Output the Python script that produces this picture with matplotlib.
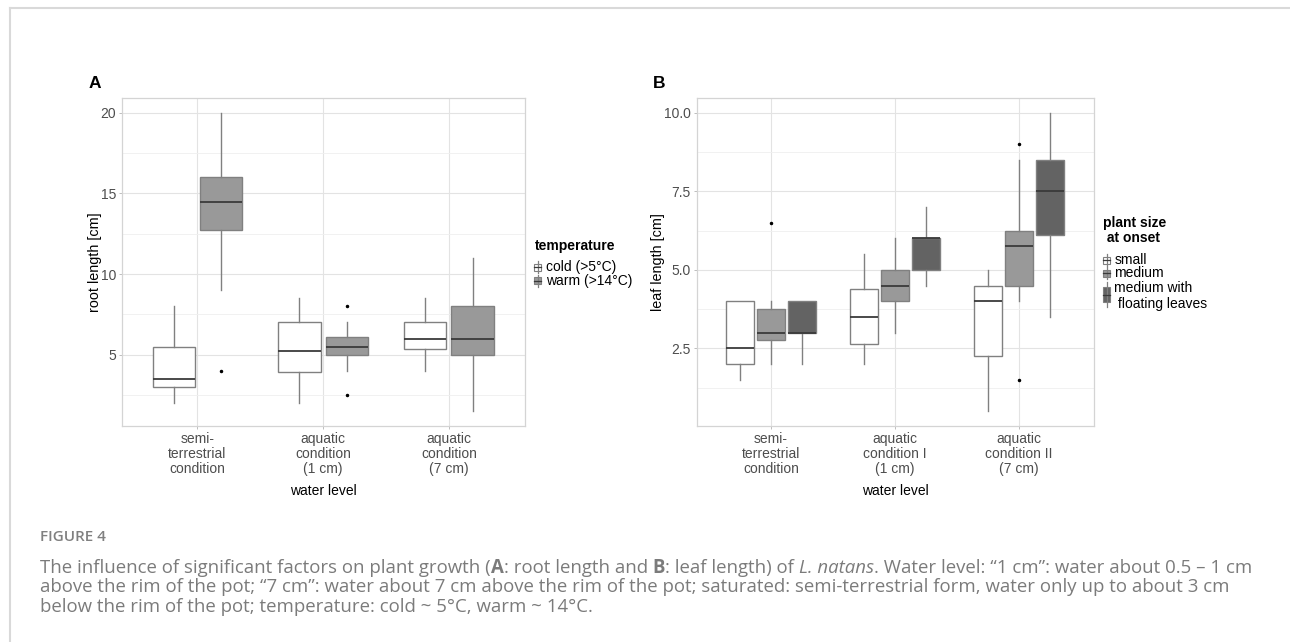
import matplotlib
matplotlib.use('Agg')
import matplotlib.pyplot as plt
from matplotlib.patches import Rectangle
from matplotlib.lines import Line2D
from matplotlib.ticker import MultipleLocator, FormatStrFormatter

plt.rcParams['font.family'] = ['Liberation Sans', 'DejaVu Sans']

# ---------------- data ----------------
water_levels_A = ["semi-\nterrestrial\ncondition", "aquatic\ncondition\n(1 cm)", "aquatic\ncondition\n(7 cm)"]
water_levels_B = ["semi-\nterrestrial\ncondition", "aquatic\ncondition I\n(1 cm)", "aquatic\ncondition II\n(7 cm)"]

# Panel A: root length [cm], temperature groups
cold_q1 = [3.0, 3.9, 5.375]
cold_med = [3.5, 5.25, 6.0]
cold_q3 = [5.5, 7.0, 7.0]
cold_lo = [2.0, 2.0, 4.0]
cold_hi = [8.0, 8.5, 8.5]
cold_out = [[], [], []]

warm_q1 = [12.75, 5.0, 5.0]
warm_med = [14.5, 5.5, 6.0]
warm_q3 = [16.0, 6.125, 8.0]
warm_lo = [9.0, 4.0, 1.5]
warm_hi = [20.0, 7.0, 11.0]
warm_out = [[4.0], [8.0, 2.5], []]

# Panel B: leaf length [cm], plant size at onset
small_q1 = [2.0, 2.625, 2.25]
small_med = [2.5, 3.5, 4.0]
small_q3 = [4.0, 4.375, 4.5]
small_lo = [1.5, 2.0, 0.5]
small_hi = [4.0, 5.5, 5.0]
small_out = [[], [], []]

medium_q1 = [2.75, 4.0, 4.5]
medium_med = [3.0, 4.5, 5.75]
medium_q3 = [3.75, 5.0, 6.25]
medium_lo = [2.0, 3.0, 4.0]
medium_hi = [4.0, 6.0, 8.5]
medium_out = [[6.5], [], [9.0, 1.5]]

float_q1 = [3.0, 5.0, 6.125]
float_med = [3.0, 6.0, 7.5]
float_q3 = [4.0, 6.0, 8.5]
float_lo = [2.0, 4.5, 3.5]
float_hi = [4.0, 7.0, 10.0]
float_out = [[], [], []]

temp_labels = ["cold (>5°C)", "warm (>14°C)"]
size_labels = ["small", "medium", "medium with\n floating leaves"]

# ---------------- styling ----------------
W, H = 1290, 642
fig = plt.figure(figsize=(W / 100, H / 100), dpi=100)


def fx(x):
    return x / W


def fy(y):
    return 1 - y / H


WHITE = '#ffffff'
GREY = '#999999'
DARK = '#636363'
EDGE = '#808080'
MED = '#3a3a3a'
TICKC = '#4d4d4d'


def stats(q1, med, q3, lo, hi, out):
    return [dict(q1=a, med=m, q3=b, whislo=l, whishi=h, fliers=f)
            for a, m, b, l, h, f in zip(q1, med, q3, lo, hi, out)]


def draw_group(ax, st, offset, width, fill):
    pos = [i + 1 + offset for i in range(len(st))]
    ax.bxp(st, positions=pos, widths=width, patch_artist=True, showcaps=False,
           manage_ticks=False,
           boxprops=dict(facecolor=fill, edgecolor=EDGE, linewidth=1.0),
           medianprops=dict(color=MED, linewidth=1.3),
           whiskerprops=dict(color=EDGE, linewidth=1.0),
           flierprops=dict(marker='o', markersize=1.5, markerfacecolor='black',
                           markeredgecolor='black', linestyle='none'))


def style_axes(ax, labels, ylim, major, minor, fmt, ylabel, ylab_x):
    ax.set_xlim(0.4, 3.6)
    ax.set_ylim(*ylim)
    ax.set_xticks([1, 2, 3])
    ax.set_xticklabels(labels, linespacing=1.12)
    ax.yaxis.set_major_locator(MultipleLocator(major))
    ax.yaxis.set_minor_locator(MultipleLocator(minor))
    ax.yaxis.set_major_formatter(FormatStrFormatter(fmt))
    ax.set_axisbelow(True)
    ax.grid(True, which='major', color='#e3e3e3', linewidth=0.8)
    ax.grid(True, which='minor', axis='y', color='#efefef', linewidth=0.6)
    for s in ax.spines.values():
        s.set_color('#d4d4d4')
        s.set_linewidth(0.9)
    ax.tick_params(axis='both', which='major', length=2.5, width=0.7, color='#bdbdbd',
                   labelsize=10, labelcolor=TICKC, pad=1.5)
    ax.tick_params(axis='y', which='minor', length=0)
    ax.set_ylabel(ylabel, fontsize=10.4, color='black')
    ax.yaxis.set_label_coords(ylab_x, 0.5)
    ax.yaxis.label.set_va('center')
    ax.set_xlabel('water level', fontsize=10, color='black')
    ax.xaxis.set_label_coords(0.5, (426 - 490.7) / 328)
    ax.xaxis.label.set_va('center')


# Panel A
axA = fig.add_axes([fx(121.7), fy(426), (524.5 - 121.7) / W, (426 - 98) / H])
draw_group(axA, stats(cold_q1, cold_med, cold_q3, cold_lo, cold_hi, cold_out), -0.1875, 0.335, WHITE)
draw_group(axA, stats(warm_q1, warm_med, warm_q3, warm_lo, warm_hi, warm_out), 0.1875, 0.335, GREY)
style_axes(axA, water_levels_A, (0.575, 20.925), 5, 2.5, '%g', 'root length [cm]',
           (95 - 121.7) / (524.5 - 121.7))

# Panel B
axB = fig.add_axes([fx(696.5), fy(426), (1093.7 - 696.5) / W, (426 - 98) / H])
draw_group(axB, stats(small_q1, small_med, small_q3, small_lo, small_hi, small_out), -0.25, 0.222, WHITE)
draw_group(axB, stats(medium_q1, medium_med, medium_q3, medium_lo, medium_hi, medium_out), 0.0, 0.222, GREY)
draw_group(axB, stats(float_q1, float_med, float_q3, float_lo, float_hi, float_out), 0.25, 0.222, DARK)
style_axes(axB, water_levels_B, (0.025, 10.475), 2.5, 1.25, '%.1f', 'leaf length [cm]',
           (658.3 - 696.5) / (1093.7 - 696.5))

# panel letters
fig.text(fx(88.5), fy(83), 'A', fontsize=12.5, fontweight='bold', ha='left', va='center')
fig.text(fx(653), fy(83), 'B', fontsize=12.5, fontweight='bold', ha='left', va='center')


# ---------------- legends (drawn manually) ----------------
def key_glyph(xc, wtop, wbot, btop, bbot, fill, w=7):
    fig.add_artist(Line2D([fx(xc), fx(xc)], [fy(wtop), fy(wbot)], color=EDGE, lw=0.9,
                          transform=fig.transFigure))
    fig.add_artist(Rectangle((fx(xc - w / 2), fy(bbot)), w / W, (bbot - btop) / H,
                             facecolor=fill, edgecolor=EDGE, lw=0.8, transform=fig.transFigure))
    ym = (btop + bbot) / 2
    fig.add_artist(Line2D([fx(xc - w / 2), fx(xc + w / 2)], [fy(ym), fy(ym)], color=MED, lw=0.9,
                          transform=fig.transFigure))


# Legend A
fig.text(fx(535), fy(245.7), 'temperature', fontsize=10, fontweight='bold', ha='left', va='center')
legA_y = [267, 280.5]
legA_fill = [WHITE, GREY]
for lab, yc, fc in zip(temp_labels, legA_y, legA_fill):
    key_glyph(537.5, yc - 6, yc + 6, yc - 3.5, yc + 3.5, fc)
    fig.text(fx(546.5), fy(yc), lab, fontsize=10, ha='left', va='center')

# Legend B
fig.text(fx(1103), fy(222.7), 'plant size', fontsize=10, fontweight='bold', ha='left', va='center')
fig.text(fx(1103), fy(238), ' at onset', fontsize=10, fontweight='bold', ha='left', va='center')
legB_fill = [WHITE, GREY, DARK]
key_glyph(1106.5, 254, 266, 256.5, 263.5, legB_fill[0])
fig.text(fx(1114.5), fy(260), size_labels[0], fontsize=10, ha='left', va='center')
key_glyph(1106.5, 267, 279, 269.5, 276.5, legB_fill[1])
fig.text(fx(1114.5), fy(273), size_labels[1], fontsize=10, ha='left', va='center')
key_glyph(1106.5, 281.5, 307, 287, 302, legB_fill[2])
l1, l2 = size_labels[2].split('\n')
fig.text(fx(1114.5), fy(288), l1, fontsize=10, ha='left', va='center')
fig.text(fx(1114.5), fy(304), l2, fontsize=10, ha='left', va='center')

# ---------------- frame ----------------
FRAME = '#d9d9d9'
fig.add_artist(Line2D([fx(9.5), 1.0], [fy(7.5), fy(7.5)], color=FRAME, lw=1.5, transform=fig.transFigure))
fig.add_artist(Line2D([fx(9.5), fx(9.5)], [fy(7.5), 0.0], color=FRAME, lw=1.5, transform=fig.transFigure))

# ---------------- caption ----------------
renderer = fig.canvas.get_renderer()
CAPC = '#7b7b7b'
CAPFONT = ['Open Sans', 'DejaVu Sans']


def seg_kw(style, size):
    kw = dict(fontsize=size, color=CAPC, family=CAPFONT, ha='left', va='center')
    if style == 'b':
        kw['fontweight'] = 'bold'
    if style == 'i':
        kw['fontstyle'] = 'italic'
    return kw


def text_w(s, kw):
    t = fig.text(0, 0, s, **kw)
    w = t.get_window_extent(renderer).width
    t.remove()
    return w


def seg_width(s, style, size):
    kw = seg_kw(style, size)
    return text_w('x' + s + 'x', kw) - text_w('xx', kw)


def draw_line(x0, y, segs, size):
    x = x0
    for s, style in segs:
        fig.text(fx(x), fy(y), s, **seg_kw(style, size))
        x += seg_width(s, style, size)


cap1 = [("The influence of significant factors on plant growth (", 'r'), ("A", 'b'),
        (": root length and ", 'r'), ("B", 'b'), (": leaf length) of ", 'r'),
        ("L. natans", 'i'), (". Water level: \u201c1 cm\u201d: water about 0.5 \u2013 1 cm", 'r')]
cap2 = [("above the rim of the pot; \u201c7 cm\u201d: water about 7 cm above the rim of the pot; "
         "saturated: semi-terrestrial form, water only up to about 3 cm", 'r')]
cap3 = [("below the rim of the pot; temperature: cold ~ 5\u00b0C, warm ~ 14\u00b0C.", 'r')]

base = 11.0
w1 = sum(seg_width(s, st, base) for s, st in cap1)
cap_size = base * 1218.0 / w1

fig.text(fx(40), fy(536.7), 'FIGURE 4', fontsize=11, fontweight='semibold', color='#808080',
         family=CAPFONT, ha='left', va='center')
draw_line(40, 568, cap1, cap_size)
draw_line(40, 587.5, cap2, cap_size)
draw_line(40, 607, cap3, cap_size)

fig.savefig('out.png', dpi=100)
